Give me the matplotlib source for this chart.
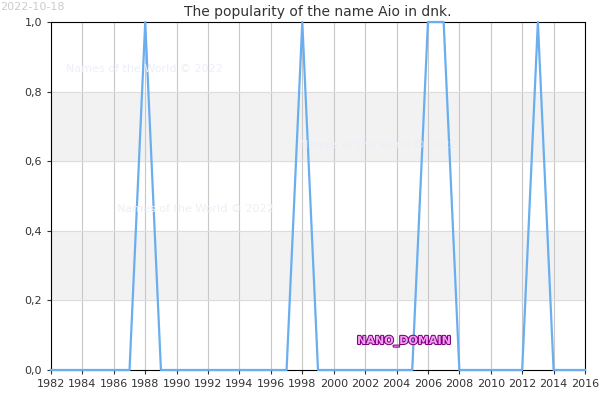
import matplotlib
matplotlib.use("Agg")
import matplotlib.pyplot as plt

years = list(range(1982, 2017))
peak_years = [1988, 1998, 2006, 2007, 2013]
values = [1 if y in peak_years else 0 for y in years]
xticks = list(range(1982, 2017, 2))
yticks = [0.0, 0.2, 0.4, 0.6, 0.8, 1.0]

fig = plt.figure(figsize=(6, 4), dpi=100)
ax = fig.add_axes([0.085, 0.075, 0.89, 0.87])
for lo in (0.2, 0.6):
    ax.axhspan(lo, lo + 0.2, color="#f2f2f2", zorder=0)
ax.set_xlim(1982, 2016)
ax.set_ylim(0, 1)
ax.set_xticks(xticks)
ax.set_yticks(yticks)
ax.set_yticklabels([f"{v:.1f}".replace(".", ",") for v in yticks])
ax.grid(axis="x", color="#c8c8c8", lw=0.8, zorder=1)
ax.grid(axis="y", color="#dddddd", lw=0.8, zorder=1)
ax.tick_params(labelsize=8, colors="#333333", length=3)
for s in ax.spines.values():
    s.set_color("black")
    s.set_linewidth(0.8)
ax.plot(years, values, color="#6aaef0", lw=1.6, zorder=3, clip_on=False)
ax.set_title("The popularity of the name Aio in dnk.", fontsize=10, color="#333333", pad=4)
fig.text(0.0, 0.995, "2022-10-18", fontsize=8, color="#cccccc", va="top")
for x, y in [(0.11, 0.82), (0.5, 0.63), (0.195, 0.47)]:
    fig.text(x, y, "Names of the World © 2022", fontsize=8, color="#eeeef8")
fig.text(0.595, 0.14, "NANO_DOMAIN", fontsize=8, color="#f0a0f0", weight="bold",
         path_effects=[__import__("matplotlib.patheffects", fromlist=["x"]).withStroke(linewidth=1.5, foreground="#800080")])
fig.savefig("out.png")
